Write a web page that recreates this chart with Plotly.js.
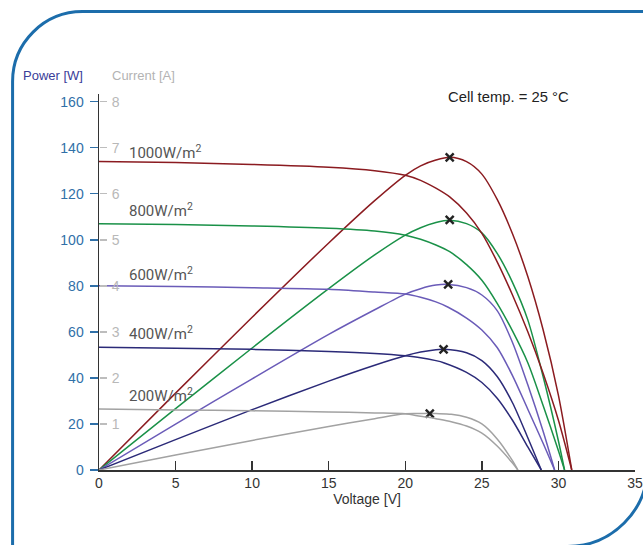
<!DOCTYPE html>
<html>
<head>
<meta charset="utf-8">
<script src="https://cdn.plot.ly/plotly-3.0.1.min.js"></script>
<style>
  html, body { margin: 0; padding: 0; background: #ffffff; }
  #chart { width: 643px; height: 545px; }
</style>
</head>
<body>
<div id="chart"></div>
<script>
// ---- Data ----
const irradianceLabels = ['1000W/m<sup>2</sup>', '800W/m<sup>2</sup>', '600W/m<sup>2</sup>', '400W/m<sup>2</sup>', '200W/m<sup>2</sup>'];
const labelPosV = [1.8, 1.8, 1.8, 1.8, 1.8];
const labelPosP = [138.0, 112.9, 85.2, 59.5, 32.7];

// 1000 W/m2
const v1000 = [0, 5, 10, 15, 18, 20, 21, 22, 22.9, 24, 25, 26, 27, 28, 29, 30, 30.87];
const i1000 = [6.70, 6.675, 6.635, 6.575, 6.50, 6.40, 6.29, 6.12, 5.93, 5.58, 5.14, 4.52, 3.80, 3.00, 2.10, 1.08, 0];
const p1000 = [0, 33.4, 66.35, 98.6, 117.0, 128.0, 132.1, 134.6, 135.8, 133.9, 128.5, 117.5, 102.6, 84.0, 60.9, 32.4, 0];

// 800 W/m2
const v800 = [0, 5, 10, 15, 18, 20, 21, 22, 22.9, 24, 25, 26, 27, 28, 29, 30, 30.4];
const i800 = [5.35, 5.33, 5.30, 5.25, 5.19, 5.10, 5.01, 4.885, 4.74, 4.46, 4.12, 3.62, 3.02, 2.33, 1.40, 0.42, 0];
const p800 = [0, 26.65, 53.0, 78.75, 93.4, 102.0, 105.2, 107.5, 108.5, 107.0, 103.0, 94.1, 81.5, 65.2, 40.6, 12.6, 0];

// 600 W/m2
const v600 = [0, 5, 10, 15, 18, 20, 21, 22, 22.8, 24, 25, 26, 27, 28, 29, 29.75];
const i600 = [4.00, 3.985, 3.96, 3.925, 3.865, 3.82, 3.75, 3.65, 3.535, 3.30, 3.04, 2.66, 2.05, 1.32, 0.58, 0];
const p600 = [0, 19.9, 39.6, 58.9, 69.6, 76.4, 78.75, 80.3, 80.6, 79.2, 76.0, 69.2, 55.4, 37.0, 16.8, 0];

// 400 W/m2
const v400 = [0, 5, 10, 15, 18, 20, 21, 22, 22.5, 24, 25, 26, 27, 28, 28.88];
const i400 = [2.665, 2.645, 2.62, 2.575, 2.53, 2.48, 2.44, 2.375, 2.33, 2.12, 1.90, 1.56, 1.08, 0.50, 0];
const p400 = [0, 13.2, 26.2, 38.6, 45.5, 49.6, 51.2, 52.25, 52.4, 50.9, 47.5, 40.6, 29.2, 14.0, 0];

// 200 W/m2
const v200 = [0, 5, 10, 15, 18, 20, 21, 21.6, 22, 23, 24, 25, 26, 27, 27.35];
const i200 = [1.325, 1.305, 1.285, 1.26, 1.24, 1.22, 1.165, 1.14, 1.115, 1.05, 0.955, 0.80, 0.52, 0.15, 0];
const p200 = [0, 6.5, 12.85, 18.9, 22.3, 24.4, 24.5, 24.6, 24.5, 24.2, 22.9, 20.0, 13.5, 4.05, 0];

// maximum power points
const mppV = [22.9, 22.9, 22.8, 22.5, 21.6];
const mppP = [135.8, 108.6, 80.6, 52.4, 24.5];

// ticks
const voltTicks = [0, 5, 10, 15, 20, 25, 30, 35];
const powerTicks = [0, 20, 40, 60, 80, 100, 120, 140, 160];
const currentTicks = [1, 2, 3, 4, 5, 6, 7, 8];

// ---- Styles ----
const colors = ['#8b1b20', '#1a9148', '#6a5bb8', '#2b2a78', '#a2a2a2'];
const series = [
  [v1000, i1000, p1000],
  [v800, i800, p800],
  [v600, i600, p600],
  [v400, i400, p400],
  [v200, i200, p200]
];

const traces = [];
series.forEach(function (s, k) {
  traces.push({
    x: s[0], y: s[1], yaxis: 'y2', type: 'scatter', mode: 'lines',
    line: { color: colors[k], width: 1.5, shape: 'spline', smoothing: 0.8 },
    hoverinfo: 'skip'
  });
  traces.push({
    x: s[0], y: s[2], yaxis: 'y', type: 'scatter', mode: 'lines',
    line: { color: colors[k], width: 1.5, shape: 'spline', smoothing: 0.8 },
    hoverinfo: 'skip'
  });
});
traces.push({
  x: mppV, y: mppP, yaxis: 'y', type: 'scatter', mode: 'markers',
  marker: { symbol: 'x-thin', size: 8, line: { width: 2.4, color: '#222222' }, color: '#222222' },
  hoverinfo: 'skip'
});

// geometry helpers (pixel -> paper) for decorative frame
const W = 643, H = 545;
const mL = 99, mR = 7.5, mT = 94, mB = 74.5;
const pw = W - mL - mR, ph = H - mT - mB;
function P(px, py) { return ((px - mL) / pw).toFixed(5) + ',' + ((H - mB - py) / ph).toFixed(5); }
const framePath =
  'M' + P(12.5, 700) + ' L' + P(12.5, 81.5) +
  ' C' + P(12.5, 42.84) + ' ' + P(43.84, 11.5) + ' ' + P(82.5, 11.5) +
  ' L' + P(648.1, 11.5) + ' L' + P(648.1, 467) +
  ' C' + P(648.1, 511.2) + ' ' + P(612.3, 547) + ' ' + P(568.1, 547) +
  ' L' + P(400, 547);

const annotations = [];
irradianceLabels.forEach(function (t, k) {
  annotations.push({
    x: labelPosV[k], y: labelPosP[k], xref: 'x', yref: 'y', text: t, showarrow: false,
    xanchor: 'left', yanchor: 'middle',
    font: { family: 'Roboto, "Liberation Sans", sans-serif', size: 15, color: '#555555' }
  });
});
annotations.push({
  x: 22.65, y: 161.8, xref: 'x', yref: 'y', text: 'Cell temp. = 25 °C', showarrow: false,
  xanchor: 'left', yanchor: 'middle',
  font: { family: '"Liberation Sans", Arial, sans-serif', size: 14.8, color: '#222222' }
});
annotations.push({
  x: (20.5 - mL) / pw, y: (H - mB - 75) / ph, xref: 'paper', yref: 'paper', text: 'Power [W]',
  showarrow: false, xanchor: 'left', yanchor: 'middle',
  font: { family: '"Liberation Sans", Arial, sans-serif', size: 13, color: '#3a3d98' }
});
annotations.push({
  x: (110.5 - mL) / pw, y: (H - mB - 75) / ph, xref: 'paper', yref: 'paper', text: 'Current [A]',
  showarrow: false, xanchor: 'left', yanchor: 'middle',
  font: { family: '"Liberation Sans", Arial, sans-serif', size: 13, color: '#b3b3b3' }
});

const layout = {
  width: W, height: H,
  margin: { l: mL, r: mR, t: mT, b: mB, pad: 0 },
  paper_bgcolor: '#ffffff', plot_bgcolor: 'rgba(0,0,0,0)',
  showlegend: false,
  xaxis: {
    range: [0, 35], tickvals: voltTicks, ticktext: voltTicks.map(String),
    ticks: 'inside', ticklen: 9, tickwidth: 1.5, tickcolor: '#333333',
    showline: true, linecolor: '#333333', linewidth: 1.5,
    showgrid: false, zeroline: false,
    tickfont: { family: '"Liberation Sans", Arial, sans-serif', size: 14, color: '#333333' },
    title: { text: 'Voltage [V]', standoff: 3,
      font: { family: '"Liberation Sans", Arial, sans-serif', size: 14, color: '#333333' } }
  },
  yaxis: {
    range: [0, 163.3], tickvals: powerTicks, ticktext: powerTicks.map(String),
    ticks: 'outside', ticklen: 8, tickwidth: 1.5, tickcolor: '#3070a8',
    ticklabelstandoff: 3,
    showline: true, linecolor: '#333333', linewidth: 1.5,
    showgrid: false, zeroline: false,
    tickfont: { family: '"Liberation Sans", Arial, sans-serif', size: 14, color: '#3070a8' }
  },
  yaxis2: {
    overlaying: 'y', side: 'right', anchor: 'free', position: 0,
    range: [0, 163.3 / 20], tickvals: currentTicks, ticktext: currentTicks.map(String),
    ticks: 'outside', ticklen: 7, tickwidth: 1.5, tickcolor: '#bdbdbd',
    ticklabelstandoff: 2,
    showline: false, showgrid: false, zeroline: false,
    tickfont: { family: '"Liberation Sans", Arial, sans-serif', size: 14, color: '#b8b8b8' }
  },
  shapes: [{
    type: 'path', xref: 'paper', yref: 'paper', path: framePath,
    line: { color: '#1c6dab', width: 3 }, layer: 'below'
  }],
  annotations: annotations
};

Plotly.newPlot('chart', traces, layout, { staticPlot: true, displayModeBar: false });
</script>
</body>
</html>
